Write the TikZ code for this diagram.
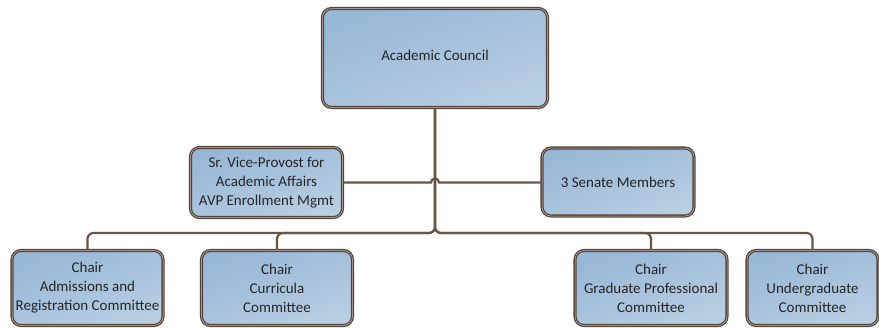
\documentclass[tikz,border=0pt]{standalone}
\usepackage{fontspec}
\setmainfont{Carlito}
\begin{document}
\definecolor{boxfillA}{HTML}{98B7D6}
\definecolor{boxfillB}{HTML}{B8CEE3}
\definecolor{edgebrown}{HTML}{54443A}
\definecolor{linkbrown}{HTML}{6A5446}
\definecolor{innerline}{HTML}{C9BDB5}
\tikzset{
  orgbox/.style={
    rectangle, rounded corners=9pt,
    draw=edgebrown, line width=1.3pt,
    double=innerline, double distance=0.5pt,
    top color=boxfillA, bottom color=boxfillB, shading angle=20,
    align=center, inner sep=0pt,
    font=\fontsize{15}{19}\selectfont, text=black!85
  },
  link/.style={draw=linkbrown, line width=2.2pt, rounded corners=6pt}
}
\begin{tikzpicture}[x=1pt,y=-1pt]
  \useasboundingbox (0,0) rectangle (879,327);

  % top level
  \node[orgbox, minimum width=225pt, minimum height=99pt] (council) at (435,58)
    {\raisebox{6pt}{Academic Council}};

  % second level
  \node[orgbox, minimum width=152pt, minimum height=70pt] (svp) at (266.5,182.5)
    {Sr. Vice-Provost for\\Academic Affairs\\AVP Enrollment Mgmt};
  \node[orgbox, minimum width=152pt, minimum height=68pt] (senate) at (618,182) {3 Senate Members};

  % committees
  \node[orgbox, minimum width=151pt, minimum height=75pt] (adm) at (87.5,288)
    {Chair\\Admissions and\\Registration Committee};
  \node[orgbox, minimum width=151pt, minimum height=75pt] (cur) at (277,288)
    {Chair\\Curricula\\Committee};
  \node[orgbox, minimum width=152pt, minimum height=75pt] (grad) at (651,288)
    {Chair\\Graduate Professional\\Committee};
  \node[orgbox, minimum width=131pt, minimum height=75pt] (ugrad) at (812.5,288)
    {Chair\\Undergraduate\\Committee};

  % branch points
  \coordinate (hop) at (council.south |- svp.east);
  \coordinate (bus) at (435,233);

  % council to committees, elbow connectors
  \draw[link] (council.south) -- (bus -| council.south) -| (adm.north);
  \draw[link] (council.south) -- (bus -| council.south) -| (cur.north);
  \draw[link] (council.south) -- (bus -| council.south) -| (grad.north);
  \draw[link] (council.south) -- (bus -| council.south) -| (ugrad.north);

  % advisory line with a hop over the trunk
  \draw[draw=linkbrown, line width=2.2pt]
    (svp.east) -- ([xshift=-4pt]hop) arc[start angle=180, end angle=0, radius=4pt]
    -- (senate.west |- hop);
\end{tikzpicture}
\end{document}
